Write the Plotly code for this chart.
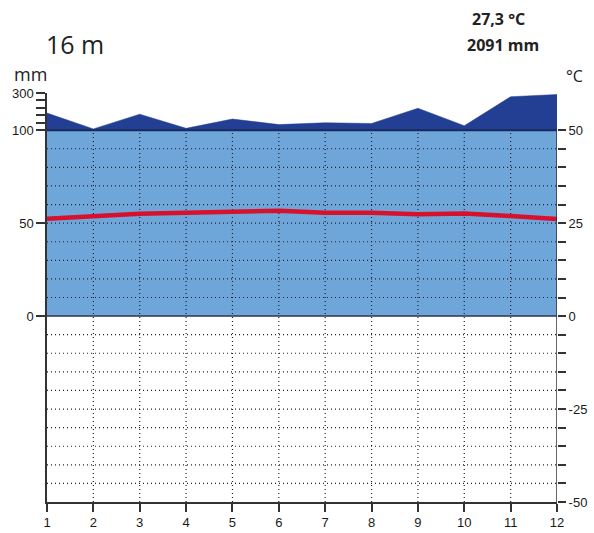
import plotly.graph_objects as go

months = [1, 2, 3, 4, 5, 6, 7, 8, 9, 10, 11, 12]
temp_c = [26.2, 27.0, 27.5, 27.8, 28.1, 28.3, 27.8, 27.8, 27.4, 27.6, 26.9, 26.1]
precip_mm = [192, 107, 186, 110, 160, 130, 140, 136, 218, 124, 280, 292]
left_tick_vals = [0, 50, 100, 140, 180, 220, 260, 300]
left_tick_text = ["0", "50", "100", "", "", "", "", "300"]
right_tick_vals = list(range(-50, 55, 5))
month_labels = [str(m) for m in months]
elevation = "16 m"
mean_temp_text = "27,3 °C"
total_precip_text = "2091 mm"

LIGHT = "#6fa6da"
DARK = "#233f94"
RED = "#d8102c"
FONT = "Liberation Sans"
W, H = 594, 533
ML, MR, MT, MB = 47, 37, 93, 31


def mm_to_disp(p):
    # Walter-Lieth scale: 0-100 mm -> 0-50 (2 mm per °C), above 100 mm compressed 1:10
    return p / 2.0 if p <= 100 else 50 + (p - 100) / 20.0


precip_disp = [mm_to_disp(p) for p in precip_mm]
precip_low = [mm_to_disp(min(p, 100)) for p in precip_mm]
base50 = [mm_to_disp(100) for _ in precip_mm]

fig = go.Figure()

fig.add_trace(go.Scatter(x=months, y=precip_low, mode="lines", line=dict(width=0, color=LIGHT),
                         fill="tozeroy", fillcolor=LIGHT, hoverinfo="skip", showlegend=False))
fig.add_trace(go.Scatter(x=months, y=base50, mode="lines", line=dict(width=0, color=DARK),
                         hoverinfo="skip", showlegend=False))
fig.add_trace(go.Scatter(x=months, y=precip_disp, mode="lines", line=dict(width=0.5, color=DARK),
                         fill="tonexty", fillcolor=DARK, hoverinfo="skip", showlegend=False))

gx, gy = [], []
for v in right_tick_vals:
    if v not in (-50, 0, 50):
        gx += [months[0], months[-1], None]
        gy += [v, v, None]
for m in months[1:-1]:
    gx += [m, m, None]
    gy += [-50, 50, None]
fig.add_trace(go.Scatter(x=gx, y=gy, mode="lines", line=dict(color="#222233", width=1.2, dash="1px,3px"),
                         hoverinfo="skip", showlegend=False))

fig.add_trace(go.Scatter(x=[months[0], months[-1]], y=[0, 0], mode="lines",
                         line=dict(color="#2b3550", width=1.5), hoverinfo="skip", showlegend=False))
fig.add_trace(go.Scatter(x=[months[0], months[-1]], y=[50, 50], mode="lines",
                         line=dict(color="#1b2a5c", width=2), hoverinfo="skip", showlegend=False))

fig.add_trace(go.Scatter(x=months, y=temp_c, mode="lines", line=dict(color=RED, width=4.5),
                         showlegend=False))

fig.add_trace(go.Scatter(x=[months[-1], months[-1]], y=[-50, 50], mode="lines",
                         line=dict(color="#333333", width=1.5), hoverinfo="skip", showlegend=False))

fig.add_trace(go.Scatter(x=[months[0]], y=[0], yaxis="y2", mode="markers",
                         marker=dict(opacity=0), hoverinfo="skip", showlegend=False))

tf = dict(family=FONT, size=13, color="#1a1a1a")
fig.update_layout(
    width=W, height=H,
    margin=dict(l=ML, r=MR, t=MT, b=MB, autoexpand=False),
    paper_bgcolor="white", plot_bgcolor="white",
    font=dict(family=FONT, size=13, color="#1a1a1a"),
    xaxis=dict(range=[1, 12], tickvals=months, ticktext=month_labels, ticks="outside",
               ticklen=8, tickwidth=1.5, tickcolor="#333333", showgrid=False, zeroline=False,
               showline=True, linecolor="#333333", linewidth=1.5, automargin=False, tickfont=tf),
    yaxis=dict(range=[-50, 60], tickvals=[mm_to_disp(v) for v in left_tick_vals],
               ticktext=left_tick_text, ticks="outside", ticklen=9, tickwidth=1.5,
               tickcolor="#333333", showgrid=False, zeroline=False, showline=True,
               linecolor="#333333", linewidth=1.5, automargin=False, tickfont=tf),
    yaxis2=dict(range=[-50, 60], overlaying="y", side="right", tickvals=right_tick_vals,
                ticktext=[str(v) if v % 25 == 0 else "" for v in right_tick_vals],
                ticks="outside", ticklen=8, tickwidth=1.5, tickcolor="#333333",
                showgrid=False, zeroline=False, showline=False, automargin=False, tickfont=tf),
)


def px_ann(text, x, y, size, anchor="center"):
    fig.add_annotation(text=text, x=(x - ML) / (W - ML - MR), y=(H - MB - y) / (H - MT - MB),
                       xref="paper", yref="paper", showarrow=False, xanchor=anchor, yanchor="middle",
                       font=dict(family="Open Sans", size=size, color="#222222"))


px_ann(elevation, 44, 44, 25, "left")
px_ann("mm", 30, 74, 18)
px_ann("°C", 574, 76, 16)
px_ann("<b>" + mean_temp_text + "</b>", 498, 19, 16)
px_ann("<b>" + total_precip_text + "</b>", 503, 45, 16)

fig.write_html("out.html", config={"displayModeBar": False},
               post_script="document.body.style.margin='0';document.body.style.overflow='hidden';")
